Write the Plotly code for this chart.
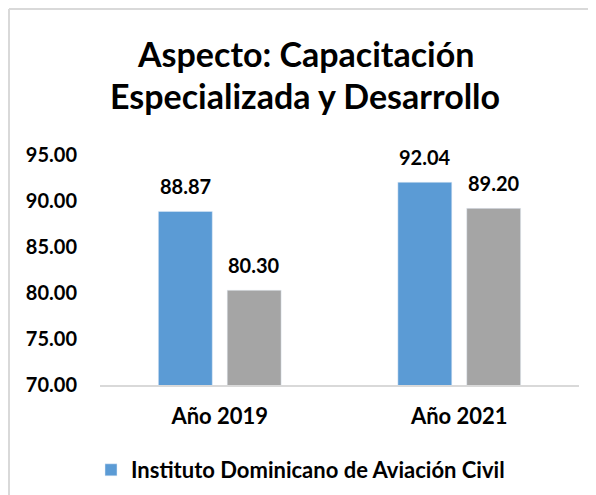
import plotly.graph_objects as go

categories = ["Año 2019", "Año 2021"]
idac_values = [88.87, 92.04]
other_values = [80.30, 89.20]
y_ticks = [70, 75, 80, 85, 90, 95]
title_lines = ["Aspecto: Capacitación", "Especializada y Desarrollo"]
legend_name = "Instituto Dominicano de Aviación Civil"

FONT = "Lato"
BLUE = "#5B9BD5"
GRAY = "#A5A5A5"

# figure is 8px smaller than the window to compensate for the page's body margin
W, H = 588, 487
L, R, T, B = 92, 17, 147, 110
PW, PH = W - L - R, H - T - B


def px(x):
    return (x - L) / PW


def py(y):
    return (H - B - y) / PH


fig = go.Figure()
fig.add_trace(go.Bar(x=categories, y=idac_values, name=legend_name,
                     marker=dict(color=BLUE), showlegend=True))
fig.add_trace(go.Bar(x=categories, y=other_values, name="Promedio",
                     marker=dict(color=GRAY), showlegend=False))

# data labels
for vals, shift in ((idac_values, -34.5), (other_values, 34.5)):
    for c, v in zip(categories, vals):
        fig.add_annotation(x=c, y=v, xref="x", yref="y", text=f"{v:.2f}",
                           showarrow=False, yanchor="bottom", xshift=shift, yshift=11,
                           font=dict(family=FONT, size=20, color="black", weight="bold"))

# title as two lines
for i, line in enumerate(title_lines):
    fig.add_annotation(x=px(297), y=py(45.5 + 42 * i), xref="paper", yref="paper",
                       xanchor="center", yanchor="middle", showarrow=False,
                       text=line, font=dict(family=FONT, size=34, color="black", weight="bold"))

fig.update_layout(
    width=W, height=H,
    margin=dict(l=L, r=R, t=T, b=B, autoexpand=False),
    paper_bgcolor="white", plot_bgcolor="white",
    barmode="group", bargap=0.425, bargroupgap=0.217,
    font=dict(family=FONT, color="black"),
    showlegend=True,
    legend=dict(orientation="h", xref="container", yref="container",
                x=83 / W, xanchor="left", y=1 - 462 / H, yanchor="middle",
                font=dict(family=FONT, size=22, color="black", weight="bold"),
                traceorder="normal"),
    shapes=[
        dict(type="line", xref="paper", yref="paper", x0=px(1), x1=px(W + 50),
             y0=py(1), y1=py(1), line=dict(color="#D9D9D9", width=2)),
        dict(type="line", xref="paper", yref="paper", x0=px(1), x1=px(1),
             y0=py(1), y1=py(H + 50), line=dict(color="#D9D9D9", width=2)),
    ],
)
fig.update_xaxes(showline=True, linecolor="#D9D9D9", linewidth=1.5, showgrid=False,
                 ticks="", automargin=False,
                 tickfont=dict(family=FONT, size=22, color="black", weight="bold"),
                 ticklabelstandoff=11)
fig.update_yaxes(range=[70, 95], tickvals=y_ticks, tickformat=".2f", showgrid=False,
                 showline=False, zeroline=False, ticks="", automargin=False,
                 tickfont=dict(family=FONT, size=20, color="black", weight="bold"),
                 ticklabelstandoff=22)
fig.update_traces(cliponaxis=False)

fig.write_html("out.html")
